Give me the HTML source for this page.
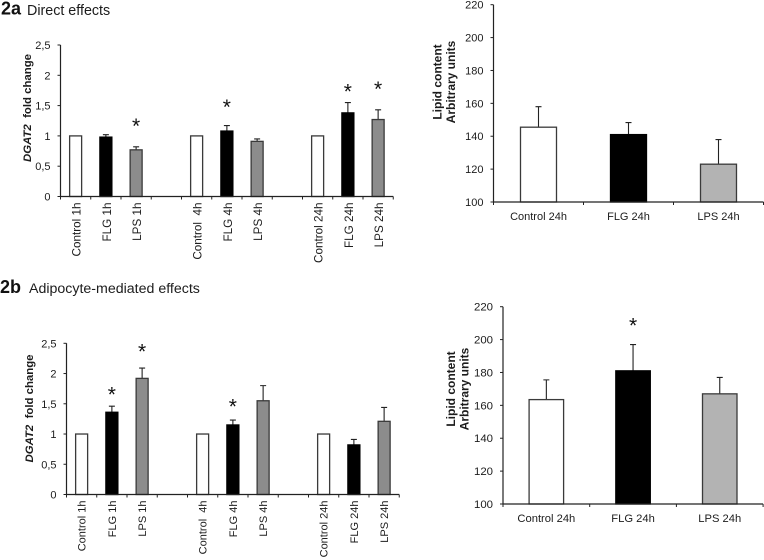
<!DOCTYPE html>
<html>
<head>
<meta charset="utf-8">
<style>
html,body{margin:0;padding:0;background:#fff;}
#stage{display:block;width:764px;height:560px;font-family:"Liberation Sans",Arial,sans-serif;}
text{font-family:"Liberation Sans",Arial,sans-serif;fill:#1c1c1c;}
</style>
</head>
<body>
<svg id="stage" xmlns="http://www.w3.org/2000/svg" width="764" height="560" viewBox="0 0 764 560">
  <rect x="0" y="0" width="764" height="560" fill="#fff"/>
  <text x="1" y="14.5" font-size="18" font-weight="bold" style="fill:#111">2a</text>
  <text x="27" y="15" font-size="14.3">Direct effects</text>
  <text x="0" y="293" font-size="18" font-weight="bold" style="fill:#111">2b</text>
  <text x="29" y="293" font-size="14.2">Adipocyte-mediated effects</text>
</svg>
<script>
// Shared category and tick labels
const timeCategories = ["Control 1h","FLG 1h","LPS 1h","","Control  4h","FLG 4h","LPS 4h","","Control 24h","FLG 24h","LPS 24h"];
const lipidCategories = ["Control 24h","FLG 24h","LPS 24h"];
const foldTicks = [0,0.5,1,1.5,2,2.5];
const foldTickLabels = ["0","0,5","1","1,5","2","2,5"];
const lipidTicks = [100,120,140,160,180,200,220];
const lipidTickLabels = ["100","120","140","160","180","200","220"];

// Panel 2a, DGAT2 direct effects
const directValues = [1,0.98,0.77,null,1,1.08,0.91,null,1,1.38,1.27];
const directErrors = [0,0.04,0.05,null,0,0.09,0.04,null,0,0.17,0.16];
const directStars = [null,null,1.23,null,null,1.54,null,null,null,1.8,1.84];

// Panel 2a, lipid content
const lipidDirectValues = [145.5,141,123];
const lipidDirectErrors = [12.5,7.3,15];
const lipidDirectStars = [null,null,null];

// Panel 2b, DGAT2 adipocyte-mediated effects
const adipoValues = [1,1.36,1.92,null,1,1.15,1.55,null,1,0.82,1.21];
const adipoErrors = [0,0.1,0.17,null,0,0.08,0.25,null,0,0.09,0.23];
const adipoStars = [null,1.72,2.43,null,null,1.52,null,null,null,null,null];

// Panel 2b, lipid content
const lipidAdipoValues = [163.5,181,167];
const lipidAdipoErrors = [12,16,10];
const lipidAdipoStars = [null,211,null];

const svgNS = "http://www.w3.org/2000/svg";
const stage = document.getElementById("stage");

function make(parent, tag, attrs, text) {
  const el = document.createElementNS(svgNS, tag);
  for (const k in attrs) el.setAttribute(k, attrs[k]);
  if (text !== undefined) el.textContent = text;
  parent.appendChild(el);
  return el;
}

function drawChart(cfg) {
  const g = make(stage, "g", {});
  
  

  const yPos = v => cfg.y0 - (v - cfg.min) / (cfg.max - cfg.min) * (cfg.y0 - cfg.y1);
  const xPos = i => cfg.x0 + (i + 0.5) * cfg.step;
  const xEnd = cfg.x0 + cfg.cats.length * cfg.step;

  cfg.values.forEach((v, i) => {
    if (v === null) return;
    const cx = xPos(i);
    const top = yPos(v);
    const err = cfg.errors[i];
    if (err > 0) {
      const ey = yPos(v + err);
      const stem = make(g, "path", {
        d: "M" + cx + " " + top + "V" + ey + "M" + (cx - 3) + " " + ey + "H" + (cx + 3),
        stroke: "#222", "stroke-width": 1.1, fill: "none"
      });
      
      
    }
    const kind = i % 4;
    const fill = kind === 0 ? "#fff" : kind === 1 ? "#000" : cfg.thirdFill;
    const bar = make(g, "rect", {
      x: cx - cfg.barW / 2, y: top, width: cfg.barW, height: cfg.y0 - top,
      fill: fill, stroke: kind === 1 ? "#000" : "#3a3a3a", "stroke-width": 1.3
    });
    
    
  });

  cfg.stars.forEach((s, i) => {
    if (s === null) return;
    const star = make(g, "text", {
      x: xPos(i), y: yPos(s) + 11, "font-size": 21, "text-anchor": "middle", style: "fill:#111"
    }, "*");
    
    
  });

  const axes = make(g, "path", {
    d: "M" + cfg.x0 + " " + cfg.y1 + "V" + cfg.y0 + "H" + xEnd,
    stroke: "#222", "stroke-width": 1.2, fill: "none"
  });
  
  

  cfg.ticks.forEach((t, i) => {
    const y = yPos(t);
    const mark = make(g, "path", {
      d: "M" + (cfg.x0 - 3) + " " + y + "H" + cfg.x0, stroke: "#222", "stroke-width": 1
    });
    
    
    const lab = make(g, "text", {
      x: cfg.x0 - 10, y: y + 4, "font-size": cfg.tickSize, "text-anchor": "end"
    }, cfg.tickLabels[i]);
    
    
  });

  for (let i = 0; i <= cfg.cats.length; i++) {
    const x = cfg.x0 + i * cfg.step;
    const mark = make(g, "path", {
      d: "M" + x + " " + cfg.y0 + "V" + (cfg.y0 + 3), stroke: "#222", "stroke-width": 1
    });
    
    
  }

  cfg.cats.forEach((c, i) => {
    if (!c) return;
    const cx = xPos(i);
    const attrs = cfg.rotate
      ? { x: 0, y: 0, "font-size": cfg.catSize, "text-anchor": "end",
          transform: "translate(" + (cx + cfg.catShift) + " " + (cfg.y0 + 6) + ") rotate(-90)", style: "white-space:pre" }
      : { x: cx, y: cfg.y0 + 18, "font-size": cfg.catSize, "text-anchor": "middle" };
    const lab = make(g, "text", attrs, c);
    
    
  });

  cfg.titleLines.forEach((line, n) => {
    const t = make(g, "text", {
      x: 0, y: 0, "font-size": cfg.titleSize, "font-weight": "bold", "text-anchor": "middle",
      transform: "translate(" + (cfg.titleX + n * 13.5) + " " + cfg.titleY + ") rotate(-90)",
      style: "white-space:pre"
    });
    
    
    line.forEach(part => {
      const s = make(t, "tspan", part.italic ? { "font-style": "italic" } : {}, part.text);
      
      
    });
  });
}

const foldTitle = [[{ text: "DGAT2", italic: true }, { text: "  fold change" }]];
const lipidTitle = [[{ text: "Lipid content" }], [{ text: "Arbitrary units" }]];

drawChart({ name: "chart-2a-dgat2", x0: 60.5, y0: 196.5, y1: 45, min: 0, max: 2.5, step: 30.25, barW: 12,
  cats: timeCategories, values: directValues, errors: directErrors, stars: directStars,
  ticks: foldTicks, tickLabels: foldTickLabels, tickSize: 11, rotate: true, catSize: 11.7, catShift: 5, thirdFill: "#8c8c8c",
  titleLines: foldTitle, titleSize: 11.4, titleX: 31, titleY: 108 });

drawChart({ name: "chart-2a-lipid", x0: 493.5, y0: 202, y1: 4.7, min: 100, max: 220, step: 90, barW: 36,
  cats: lipidCategories, values: lipidDirectValues, errors: lipidDirectErrors, stars: lipidDirectStars,
  ticks: lipidTicks, tickLabels: lipidTickLabels, tickSize: 11, rotate: false, catSize: 11, catShift: 0, thirdFill: "#b3b3b3",
  titleLines: lipidTitle, titleSize: 12, titleX: 441.5, titleY: 82 });

drawChart({ name: "chart-2b-dgat2", x0: 66.5, y0: 494.5, y1: 343.3, min: 0, max: 2.5, step: 30.25, barW: 12,
  cats: timeCategories, values: adipoValues, errors: adipoErrors, stars: adipoStars,
  ticks: foldTicks, tickLabels: foldTickLabels, tickSize: 11, rotate: true, catSize: 11, catShift: 4, thirdFill: "#8c8c8c",
  titleLines: foldTitle, titleSize: 11.4, titleX: 33, titleY: 408.5 });

drawChart({ name: "chart-2b-lipid", x0: 503, y0: 504, y1: 306.7, min: 100, max: 220, step: 86.7, barW: 34.5,
  cats: lipidCategories, values: lipidAdipoValues, errors: lipidAdipoErrors, stars: lipidAdipoStars,
  ticks: lipidTicks, tickLabels: lipidTickLabels, tickSize: 11.4, rotate: false, catSize: 11.2, catShift: 0, thirdFill: "#b3b3b3",
  titleLines: lipidTitle, titleSize: 12, titleX: 455, titleY: 389 });
</script>
</body>
</html>
